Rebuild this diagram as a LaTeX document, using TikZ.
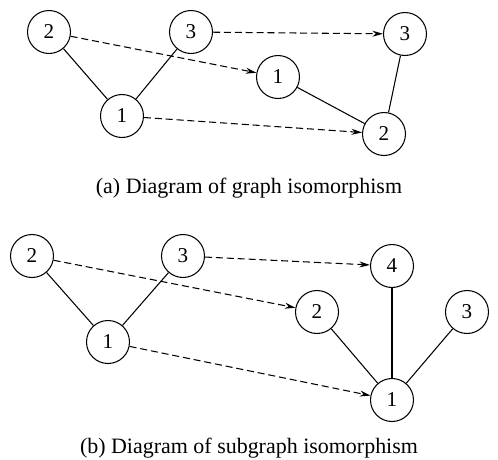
\documentclass[tikz,border=0pt]{standalone}
\usepackage{fontspec}
\setmainfont{Liberation Serif}
\usetikzlibrary{arrows.meta, positioning}
\tikzset{
    vtx/.style={circle, draw=black, line width=0.6pt, minimum size=0.86cm,
                inner sep=0pt, font=\fontsize{12}{14}\selectfont},
    link/.style={line width=0.6pt},
    maparrow/.style={-{Stealth[length=6pt, width=3.4pt]}, line width=0.6pt,
                     dash pattern=on 4pt off 2.2pt},
    caption/.style={font=\fontsize{12.5}{15}\selectfont},
}

\begin{document}
\begin{tikzpicture}[x=0.02cm, y=-0.02cm]
    \useasboundingbox (0,0) rectangle (498,460);
    % (a) graph isomorphism
    \node[vtx] (ga2) at (49,32) {2};
    \node[vtx] (ga3) at (191,32) {3};
    \node[vtx] (ga1) at (122,116) {1};
    \node[vtx] (ha1) at (278,77) {1};
    \node[vtx] (ha3) at (405,34) {3};
    \node[vtx] (ha2) at (384,134) {2};
    \draw[link] (ga2) -- (ga1);
    \draw[link] (ga3) -- (ga1);
    \draw[link] (ha1) -- (ha2);
    \draw[link] (ha3) -- (ha2);
    \draw[maparrow] (ga2) -- (ha1);
    \draw[maparrow] (ga3) -- (ha3);
    \draw[maparrow] (ga1) -- (ha2);
    \node[caption] (capa) at (249,188) {(a) Diagram of graph isomorphism};
    % (b) subgraph isomorphism
    \node[vtx] (gb2) at (32,256) {2};
    \node[vtx] (gb3) at (183,256) {3};
    \node[vtx] (gb1) at (108,342) {1};
    \node[vtx] (hb4) at (392,266) {4};
    \node[vtx] (hb2) at (317,312) {2};
    \node[vtx] (hb3) at (467,312) {3};
    \node[vtx] (hb1) at (392,400) {1};
    \draw[link] (gb2) -- (gb1);
    \draw[link] (gb3) -- (gb1);
    \draw[link] (hb4) -- (hb1);
    \draw[link] (hb2) -- (hb1);
    \draw[link] (hb3) -- (hb1);
    \draw[maparrow] (gb2) -- (hb2);
    \draw[maparrow] (gb3) -- (hb4);
    \draw[maparrow] (gb1) -- (hb1);
    \node[caption] (capb) at (249,448) {(b) Diagram of subgraph isomorphism};
\end{tikzpicture}
\end{document}
